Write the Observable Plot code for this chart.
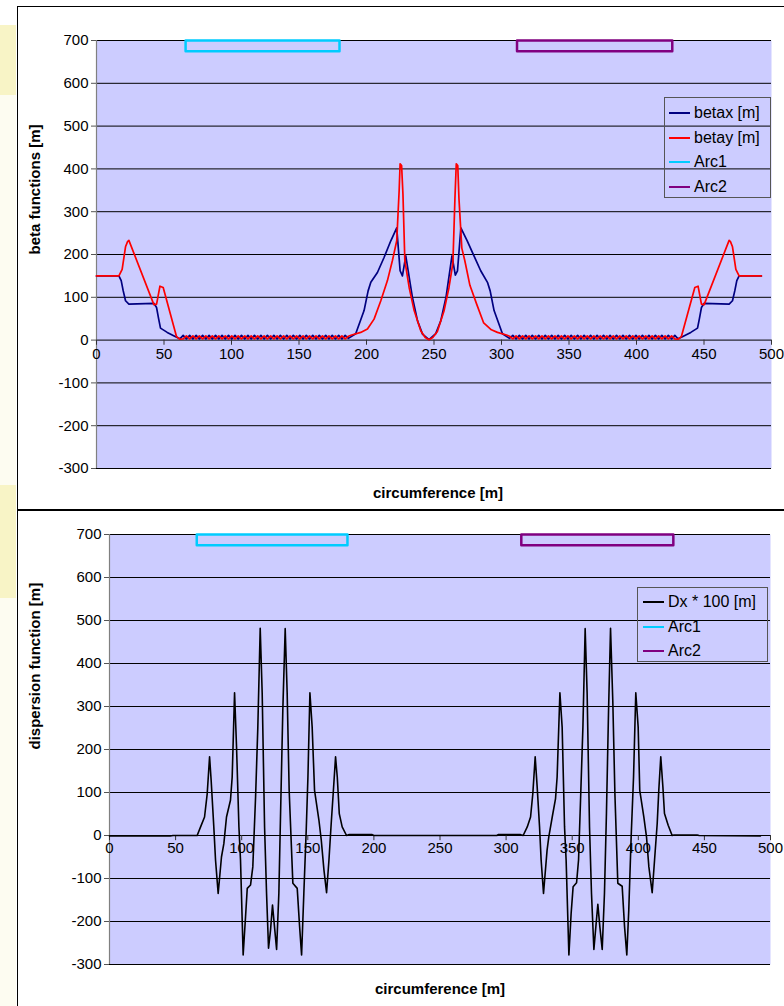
<!DOCTYPE html>
<html><head><meta charset="utf-8">
<script src="https://cdn.jsdelivr.net/npm/d3@7"></script>
<script src="https://cdn.jsdelivr.net/npm/@observablehq/plot@0.6"></script>
<style>
body{margin:0;background:#fff;font-family:"Liberation Sans",Arial,sans-serif;}
#page{position:relative;width:784px;height:1006px;overflow:hidden;background:#fff;}
.abs{position:absolute;}
.legend{position:absolute;border:1px solid #555;font-size:16px;color:#000;box-sizing:border-box;}
.legend .row{position:absolute;height:20px;display:flex;align-items:center;white-space:nowrap;}
.legend .sw{display:inline-block;width:21px;height:0;border-top:2px solid;margin-right:4px;}
svg{overflow:visible;}
</style></head>
<body><div id="page">
<div class="abs" style="left:0;top:25px;width:16px;height:70px;background:#f8f4c6"></div>
<div class="abs" style="left:0;top:95px;width:16px;height:390px;background:#fdfcf1"></div>
<div class="abs" style="left:0;top:485px;width:16px;height:113px;background:#f8f4c6"></div>
<div class="abs" style="left:0;top:598px;width:16px;height:408px;background:#fdfcf1"></div>
<div class="abs" style="left:17px;top:6px;width:800px;height:504px;border:1.5px solid #000;box-sizing:border-box;"></div>
<div class="abs" style="left:17px;top:510px;width:800px;height:600px;border:1.5px solid #000;box-sizing:border-box;"></div>
<div id="topChart" class="abs" style="left:0;top:0"></div>
<div id="botChart" class="abs" style="left:0;top:512px"></div>
</div>
<script>
// ---------- data ----------
const yTicks = [-300, -200, -100, 0, 100, 200, 300, 400, 500, 600, 700];
const xTicks = [0, 50, 100, 150, 200, 250, 300, 350, 400, 450, 500];

// betax outside the arcs
const bxS = [0,16.6,18.3,19.8,21.5,24,42.5,44.5,46,47.4,52.4,58.6,
  186.6,192,198.2,201.2,203.2,208.1,213,218,222.4,224.9,226.6,229.1,234,237.8,241.5,246.3,251.3,255,258.9,263.3,265.8,267.4,269.9,274.6,279.7,284.6,289.6,291.6,294.5,300.7,305.9,
  434,440.2,445.2,446.6,448.1,450.1,468.6,471.1,472.8,474.3,476,492.5];
const bxV = [150,150,139,115,92,84,86,76,50,28,18,8,
  4,15,69,115,135,158,193,232,262,162,150,197,100,45,14,1,15,45,100,197,152,162,262,232,196,162,135,115,69,15,4,
  8,18,28,50,76,86,84,92,115,139,150,150];
// betay outside the arcs
const byS = [0,16.6,19,21.5,23,24,42.5,44.5,47,49.4,59.3,
  186.6,189,195.7,200.7,205.6,210.6,215.5,219.2,222.4,224.2,224.9,226,227,228.4,231.6,235.3,240.2,243.5,246.3,249.1,252.5,257.4,261.1,264,265.5,266.5,267.6,268.5,270.6,272.8,276.6,281.6,286.8,292.5,297,303.7,306,
  433.2,443.2,445.6,448.1,450.1,468.6,469.6,471.1,473.6,476,492.5];
const byV = [150,150,165,218,230,233,83,84,126,123,8,
  9,12,18,26,49,92,139,186,232,350,412,408,341,186,123,69,22,6,1,6,20,68,123,180,330,412,408,330,215,186,128,84,40,24,18,12,9,
  8,123,126,84,83,233,230,218,165,150,150];

// FODO oscillation inside Arc1 / Arc2
const arc1S = [61.8,64.2,66.6,69.0,71.4,73.8,76.2,78.6,81.0,83.4,85.8,88.2,90.6,93.0,95.4,97.8,100.2,102.6,105.0,107.4,109.8,112.2,114.6,117.0,119.4,121.8,124.2,126.6,129.0,131.4,133.8,136.2,138.6,141.0,143.4,145.8,148.2,150.6,153.0,155.4,157.8,160.2,162.6,165.0,167.4,169.8,172.2,174.6,177.0,179.4,181.8,184.2];
const arc1Bx = [3,11,3,11,3,11,3,11,3,11,3,11,3,11,3,11,3,11,3,11,3,11,3,11,3,11,3,11,3,11,3,11,3,11,3,11,3,11,3,11,3,11,3,11,3,11,3,11,3,11,3,11];
const arc1By = [2,3,10,3,10,3,10,3,10,3,10,3,10,3,10,3,10,3,10,3,10,3,10,3,10,3,10,3,10,3,10,3,10,3,10,3,10,3,10,3,10,3,10,3,10,3,10,3,10,3,10,3];
const arc2S = [308.4,310.8,313.2,315.6,318.0,320.4,322.8,325.2,327.6,330.0,332.4,334.8,337.2,339.6,342.0,344.4,346.8,349.2,351.6,354.0,356.4,358.8,361.2,363.6,366.0,368.4,370.8,373.2,375.6,378.0,380.4,382.8,385.2,387.6,390.0,392.4,394.8,397.2,399.6,402.0,404.4,406.8,409.2,411.6,414.0,416.4,418.8,421.2,423.6,426.0,428.4,430.8];
const arc2Bx = [11,3,11,3,11,3,11,3,11,3,11,3,11,3,11,3,11,3,11,3,11,3,11,3,11,3,11,3,11,3,11,3,11,3,11,3,11,3,11,3,11,3,11,3,11,3,11,3,11,3,11,3];
const arc2By = [3,10,3,10,3,10,3,10,3,10,3,10,3,10,3,10,3,10,3,10,3,10,3,10,3,10,3,10,3,10,3,10,3,10,3,10,3,10,3,10,3,10,3,10,3,10,3,10,3,10,3,2];

// dispersion Dx*100
const dS = [0,46,48,66.3,68.9,71.9,73.9,75.7,76.9,78.9,80.2,82.2,84.7,86.5,88.5,91.5,92.8,94.6,96.1,97.9,99.1,101.1,102.9,104.2,106.7,108.4,110.5,112.2,114,115.5,117.3,118.8,120.3,121.8,123.3,124.8,126.4,128.1,129.4,131.1,132.9,134.4,135.9,138.7,142,143.8,145.3,147,148.8,150.1,151.6,153.3,155.1,158.4,160.2,162.2,164.2,166,167.7,169.2,171,172.3,173.8,176,179.3,181,198.7,200,
  293,294,311,312.9,316,318.5,320.2,322,323.5,325.3,326.5,328.3,331,332.3,334.9,337.4,338.6,340.7,342.4,344.2,345.4,347.5,349.2,350.7,353.3,354.8,356.3,358.1,359.8,361.3,363.1,364.6,366.4,367.9,369.4,370.9,372.7,374.4,375.9,377.5,379,380.7,382.3,384.5,387.8,389.6,391.3,392.8,394.6,396.4,398.1,399.9,401.1,404.2,406.2,408,410.5,412.3,414.3,415.5,417,418.6,419.8,422.6,425.6,427,444.5,446,492.4];
const dV = [-1,-1,0,0,20,43,97,183,128,20,-57,-135,-50,-19,43,82,136,332,206,20,-57,-278,-189,-123,-115,-73,90,252,482,330,20,-135,-262,-220,-162,-212,-265,-135,51,291,481,330,105,-111,-123,-212,-278,-135,12,136,332,252,105,36,-11,-80,-133,-57,28,97,183,136,51,20,0,2,2,0,
  0,2,2,0,20,43,97,183,113,20,-57,-135,-34,-3,43,86,136,332,252,20,-57,-278,-181,-119,-110,-57,82,252,481,330,20,-135,-265,-212,-160,-212,-265,-135,51,291,482,314,97,-111,-118,-212,-278,-173,-3,136,332,252,105,43,-3,-73,-133,-57,28,105,183,113,51,24,0,1,1,0,-1];

// arc markers (s range, drawn as boxes at the top of the charts)
const arc1X = [66, 66, 180, 180, 66];
const arc2X = [311.5, 311.5, 426.5, 426.5, 311.5];
const arcY = [700, 675, 675, 700, 700];

// ---------- tables ----------
const mk = (S, V) => S.map((s, i) => ({s, v: V[i]}));
const bySort = (a, b) => a.s - b.s;
const betax = mk(bxS, bxV).concat(mk(arc1S, arc1Bx), mk(arc2S, arc2Bx)).sort(bySort);
const betay = mk(byS, byV).concat(mk(arc1S, arc1By), mk(arc2S, arc2By)).sort(bySort);
const disp = mk(dS, dV);
const arc1 = mk(arc1X, arcY), arc2 = mk(arc2X, arcY);

const FONT = '"Liberation Sans", Arial, sans-serif';
const C = {bx: "#000080", by: "#ff0000", a1: "#00ccff", a2: "#800080", d: "#000000"};

function base(opts) {
  return [
    Plot.frame({fill: "#ccccff", stroke: null}),
    Plot.ruleY(yTicks, {stroke: "#000", strokeWidth: 1}),
    Plot.ruleX([0], {stroke: "#808080", strokeWidth: 1.2}),
    Plot.axisY(yTicks, {anchor: "left", tickSize: 5, tickPadding: 3, fontSize: 15, label: null, stroke: "#555", tickFormat: d => String(d)}),
    Plot.ruleX(xTicks, {y1: 0, y2: -12, stroke: "#333"}),
    Plot.text(xTicks, {x: d => d, y: 0, dy: opts.xdy, text: d => String(d), fontSize: 15, fill: "#000"}),
    Plot.text([opts.ytitle], {frameAnchor: "left", dx: opts.ydx, rotate: -90, fontWeight: "bold", fontSize: 15, fill: "#000"}),
    Plot.text(["circumference [m]"], {frameAnchor: "bottom", dy: 29, dx: opts.tdx, fontWeight: "bold", fontSize: 15, fill: "#000"})
  ];
}

const topPlot = Plot.plot({
  width: 784, height: 510,
  marginLeft: 96, marginRight: 13, marginTop: 40, marginBottom: 42,
  x: {domain: [0, 500], axis: null},
  y: {domain: [-300, 700], axis: null},
  style: {fontFamily: FONT, fontSize: "15px", background: "transparent", color: "#000"},
  marks: [
    ...base({xdy: 14, ydx: -61, tdx: 4, ytitle: "beta functions [m]"}),
    Plot.line(betax, {x: "s", y: "v", stroke: C.bx, strokeWidth: 1.7}),
    Plot.line(betay, {x: "s", y: "v", stroke: C.by, strokeWidth: 1.7}),
    Plot.line(arc1, {x: "s", y: "v", stroke: C.a1, strokeWidth: 2.5}),
    Plot.line(arc2, {x: "s", y: "v", stroke: C.a2, strokeWidth: 2.5})
  ]
});
document.getElementById("topChart").appendChild(topPlot);

const botPlot = Plot.plot({
  width: 784, height: 494,
  marginLeft: 109, marginRight: 14, marginTop: 22, marginBottom: 42,
  x: {domain: [0, 500], axis: null},
  y: {domain: [-300, 700], axis: null},
  style: {fontFamily: FONT, fontSize: "15px", background: "transparent", color: "#000"},
  marks: [
    ...base({xdy: 13, ydx: -74, tdx: 0, ytitle: "dispersion function [m]"}),
    Plot.line(disp, {x: "s", y: "v", stroke: C.d, strokeWidth: 1.6}),
    Plot.line(arc1, {x: "s", y: "v", stroke: C.a1, strokeWidth: 2.5}),
    Plot.line(arc2, {x: "s", y: "v", stroke: C.a2, strokeWidth: 2.5})
  ]
});
document.getElementById("botChart").appendChild(botPlot);

// ---------- legends ----------
function legend(items, box) {
  const L = document.createElement("div");
  L.className = "legend";
  Object.assign(L.style, {left: box.x + "px", top: box.y + "px", width: box.w + "px", height: box.h + "px"});
  items.forEach((it, i) => {
    const r = document.createElement("div");
    r.className = "row";
    r.style.left = box.pad + "px";
    r.style.top = (box.first + i * box.step - 10) + "px";
    const sw = document.createElement("span");
    sw.className = "sw";
    sw.style.borderTopColor = it.color;
    r.appendChild(sw);
    r.appendChild(document.createTextNode(it.label));
    L.appendChild(r);
  });
  document.getElementById("page").appendChild(L);
}
legend([{label: "betax [m]", color: C.bx}, {label: "betay [m]", color: C.by}, {label: "Arc1", color: C.a1}, {label: "Arc2", color: C.a2}],
  {x: 664, y: 97, w: 107, h: 101, pad: 4, first: 15, step: 24.7});
legend([{label: "Dx * 100 [m]", color: C.d}, {label: "Arc1", color: C.a1}, {label: "Arc2", color: C.a2}],
  {x: 637, y: 587, w: 131, h: 75, pad: 5, first: 14, step: 24.5});
</script>
</body></html>
